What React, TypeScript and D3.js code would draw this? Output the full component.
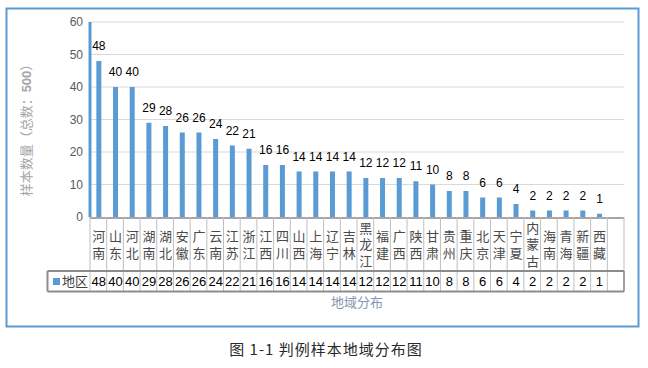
import React from "react";
import * as d3 from "d3";

const categories = ["河南","山东","河北","湖南","湖北","安徽","广东","云南","江苏","浙江","江西","四川","山西","上海","辽宁","吉林","黑龙江","福建","广西","陕西","甘肃","贵州","重庆","北京","天津","宁夏","内蒙古","海南","青海","新疆","西藏"];
const values = [48,40,40,29,28,26,26,24,22,21,16,16,14,14,14,14,12,12,12,11,10,8,8,6,6,4,2,2,2,2,1];
const yTicks = [0,10,20,30,40,50,60];
const seriesName = "地区";
const yTitle = "样本数量（总数：";
const yTitleNum = "500";
const xTitle = "地域分布";
const caption = "图 1-1 判例样本地域分布图";

const W = 648, H = 368;
const CJK = "'Noto Sans CJK SC', 'Noto Sans', sans-serif";
const LAT = "'Liberation Sans', Arial, sans-serif";
const BLUE = "#5b9bd5";

export default function App() {
  const x0 = 90, x1 = 624;
  const yTop = 22, yBot = 217;
  const domain = [...categories, "__empty__"];
  const x = d3.scaleBand<string>().domain(domain).range([x0, x1]).padding(0);
  const y = d3.scaleLinear().domain([0, 60]).range([yBot, yTop]);
  const bw = x.bandwidth();
  const barW = 5;
  const rowTop = 271, rowBot = 291.5;
  const tableLeft = 47.5;
  const catMid = (yBot + rowTop) / 2 + 0.5;
  const gap = 3.5;

  return (
    <svg width={W} height={H} style={{ position: "absolute", left: 0, top: 0, background: "#fff" }}>
      <rect x={0} y={0} width={W} height={H} fill="#fff" />
      <rect x={6.5} y={8.5} width={632} height={318} fill="none" stroke={BLUE} strokeWidth={2} />

      {/* gridlines */}
      {yTicks.filter(t => t > 0).map(t => (
        <line key={"g" + t} x1={x0} x2={x1} y1={y(t)} y2={y(t)} stroke="#d9d9d9" strokeWidth={1.2} />
      ))}
      {/* y tick labels */}
      {yTicks.map(t => (
        <text key={"t" + t} x={83} y={y(t)} dy="0.35em" textAnchor="end" fontFamily={LAT} fontSize={12} fill="#595959">{t}</text>
      ))}
      {/* y title */}
      <text transform={`translate(31,127) rotate(-90)`} textAnchor="middle" fontFamily={CJK} fontSize={13} fill="#a6a6a6">
        {yTitle}<tspan fontWeight="bold" fontFamily={LAT}>{yTitleNum}</tspan>）
      </text>

      {/* left blue axis */}
      <line x1={x0} x2={x0} y1={y(60)} y2={y(0)} stroke={BLUE} strokeWidth={3} />

      {/* bars */}
      {categories.map((c, i) => {
        const cx = (x(c) as number) + bw / 2 + 0.5;
        return (
          <g key={c}>
            <rect x={cx - barW / 2} y={y(values[i])} width={barW} height={yBot - y(values[i])} fill={BLUE} />
            <text x={cx} y={y(values[i]) - 11} textAnchor="middle" fontFamily={LAT} fontSize={12} fill="#000">{values[i]}</text>
          </g>
        );
      })}

      {/* x axis line */}
      <line x1={x0} x2={x1} y1={yBot + 1} y2={yBot + 1} stroke="#a6a6a6" strokeWidth={2} />

      {/* category separators */}
      {domain.map(c => (
        <line key={"s" + c} x1={(x(c) as number)} x2={(x(c) as number)} y1={yBot} y2={rowBot} stroke="#bfbfbf" strokeWidth={1} />
      ))}
      <line x1={x1} x2={x1} y1={yBot} y2={rowBot} stroke="#bfbfbf" strokeWidth={1} />

      {/* category labels vertical */}
      {categories.map(c => {
        const n = Array.from(c).length;
        const cx = (x(c) as number) + bw / 2 + 0.5;
        const total = n * 13 + (n - 1) * gap;
        return (
          <text key={"c" + c} x={cx} y={catMid - total / 2} writingMode="vertical-rl" letterSpacing={gap}
            fontFamily={CJK} fontSize={13} fill="#4a4a4a">{c}</text>
        );
      })}

      {/* data table row */}
      <line x1={tableLeft} x2={x1} y1={rowTop} y2={rowTop} stroke="#8c8c8c" strokeWidth={2} />
      <line x1={tableLeft} x2={x1} y1={rowBot} y2={rowBot} stroke="#8c8c8c" strokeWidth={2} />
      <line x1={tableLeft} x2={tableLeft} y1={rowTop} y2={rowBot} stroke="#8c8c8c" strokeWidth={2} />
      <line x1={x1} x2={x1} y1={rowTop} y2={rowBot} stroke="#8c8c8c" strokeWidth={1.5} />
      <rect x={53} y={278} width={7} height={7} fill={BLUE} />
      <text x={62} y={(rowTop + rowBot) / 2} dy="0.36em" fontFamily={CJK} fontSize={13} fill="#404040">{seriesName}</text>
      {categories.map((c, i) => (
        <text key={"v" + c} x={(x(c) as number) + bw / 2 + 0.5} y={(rowTop + rowBot) / 2} dy="0.36em" textAnchor="middle" fontFamily={LAT} fontSize={13} fill="#000">{values[i]}</text>
      ))}

      {/* x title */}
      <text x={357} y={302} dy="0.36em" textAnchor="middle" fontFamily={CJK} fontSize={13} fill="#8497b0">{xTitle}</text>

      {/* caption */}
      <text x={326} y={350} dy="0.36em" textAnchor="middle" fontFamily={CJK} fontSize={15} letterSpacing={1} fill="#2a2a2a">{caption}</text>
    </svg>
  );
}
